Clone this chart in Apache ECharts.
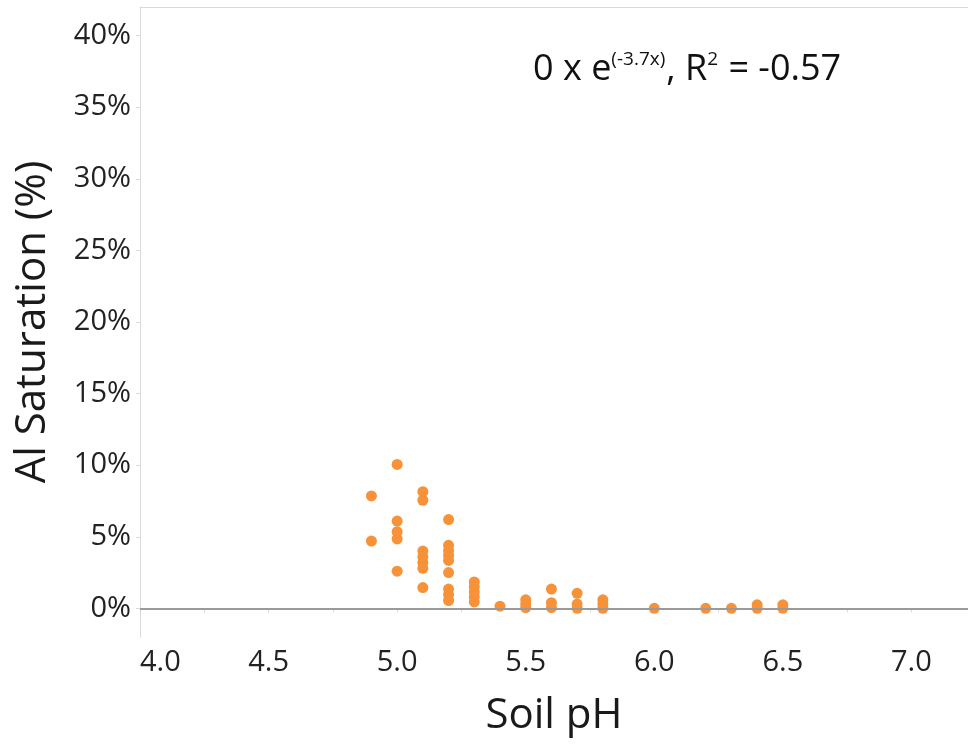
<!DOCTYPE html>
<html>
<head>
<meta charset="utf-8">
<script src="https://cdn.jsdelivr.net/npm/echarts@6/dist/echarts.min.js"></script>
<style>
html,body{margin:0;padding:0;background:#fff;}
#main{width:968px;height:745px;}
</style>
</head>
<body>
<div id="main"></div>
<script>
// Soil pH (x) and Al saturation in % (y)
var soilPH = [
  4.9, 4.9,
  5.0, 5.0, 5.0, 5.0, 5.0,
  5.1, 5.1, 5.1, 5.1, 5.1, 5.1, 5.1,
  5.2, 5.2, 5.2, 5.2, 5.2, 5.2, 5.2, 5.2, 5.2,
  5.3, 5.3, 5.3, 5.3, 5.3,
  5.4,
  5.5, 5.5, 5.5,
  5.6, 5.6, 5.6,
  5.7, 5.7, 5.7,
  5.8, 5.8, 5.8,
  6.0,
  6.2,
  6.3,
  6.4, 6.4,
  6.5, 6.5
];
var alSaturation = [
  7.85, 4.7,
  10.05, 6.1, 5.35, 4.85, 2.6,
  8.15, 7.55, 4.0, 3.6, 3.2, 2.8, 1.45,
  6.2, 4.4, 4.05, 3.7, 3.35, 2.5, 1.35, 0.95, 0.55,
  1.85, 1.5, 1.15, 0.8, 0.45,
  0.15,
  0.6, 0.3, 0.05,
  1.35, 0.4, 0.05,
  1.05, 0.3, 0.0,
  0.6, 0.3, 0.0,
  0.0,
  0.0,
  0.0,
  0.25, 0.0,
  0.25, 0.0
];
var yTickValues = [0, 5, 10, 15, 20, 25, 30, 35, 40];

var points = soilPH.map(function (x, i) { return [x, alSaturation[i]]; });

var FONT = '"Open Sans", "Noto Sans", sans-serif';
var X_MIN = 4.0, X_MAX = 7.22;
var chart = echarts.init(document.getElementById('main'));
chart.setOption({
  animation: false,
  backgroundColor: '#fff',
  grid: { left: 140, right: 0, top: 7, bottom: 108, show: false },
  xAxis: [{
    type: 'value',
    min: X_MIN, max: X_MAX, interval: 0.5,
    name: 'Soil pH', nameLocation: 'middle', nameGap: 58,
    nameTextStyle: { fontSize: 42, color: '#1a1a1a', fontFamily: FONT },
    axisLine: { show: true, lineStyle: { color: '#d9d9d9', width: 1 } },
    axisTick: { show: true, length: 4, lineStyle: { color: '#d9d9d9' } },
    minorTick: { show: true, splitNumber: 2, length: 4, lineStyle: { color: '#d9d9d9' } },
    splitLine: { show: false },
    axisLabel: {
      fontSize: 29, color: '#222', fontFamily: FONT, margin: 11,
      alignMinLabel: 'left', showMaxLabel: false,
      formatter: function (v) { return v.toFixed(1); }
    }
  }, {
    type: 'value', position: 'top',
    min: X_MIN, max: X_MAX,
    axisLine: { show: true, lineStyle: { color: '#d9d9d9', width: 1 } },
    axisTick: { show: false }, axisLabel: { show: false }, splitLine: { show: false }
  }],
  yAxis: {
    type: 'value',
    min: -2, max: 42,
    name: 'Al Saturation (%)', nameLocation: 'middle', nameGap: 86,
    nameTextStyle: { fontSize: 42, color: '#1a1a1a', fontFamily: FONT },
    axisLine: { show: true, lineStyle: { color: '#d9d9d9', width: 1 } },
    axisTick: { show: true, length: 4, lineStyle: { color: '#d9d9d9' }, customValues: yTickValues },
    splitLine: { show: false },
    axisLabel: {
      fontSize: 29, color: '#222', fontFamily: FONT, margin: 9,
      customValues: yTickValues,
      formatter: function (v) { return v + '%'; }
    }
  },
  graphic: [{
    type: 'text',
    left: 533, top: 44,
    style: {
      text: '{m|0 x e}{s|(-3.7x)}{m|, R}{s|2}{m| = -0.57}',
      rich: {
        m: { fontSize: 36, fontFamily: FONT, fill: '#111', lineHeight: 44, verticalAlign: 'bottom' },
        s: { fontSize: 19, fontFamily: FONT, fill: '#111', lineHeight: 44, verticalAlign: 'top', padding: [6, 1, 0, 0] }
      }
    }
  }],
  series: [{
    type: 'scatter',
    data: points,
    symbolSize: 11,
    itemStyle: { color: '#F79239', opacity: 1 },
    markLine: {
      silent: true,
      symbol: ['none', 'none'],
      label: { show: false },
      lineStyle: { color: '#9a9a9a', width: 2, type: 'solid' },
      data: [{ yAxis: 0 }]
    },
    z: 3
  }]
});
</script>
</body>
</html>
